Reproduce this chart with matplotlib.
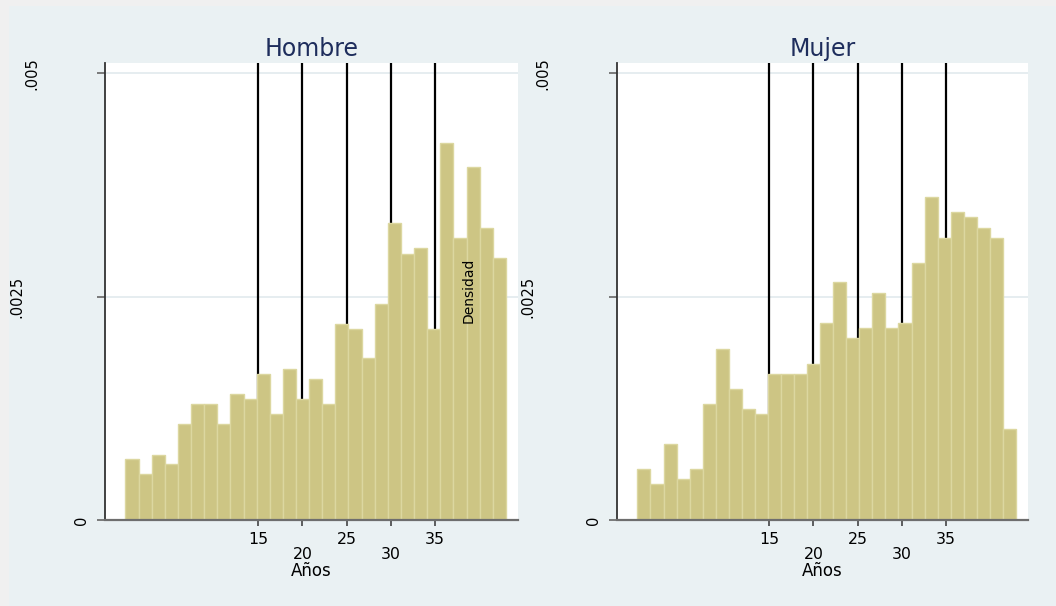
import numpy as np
import matplotlib
matplotlib.use('Agg')
import matplotlib.pyplot as plt
from matplotlib.patches import Rectangle

# histogram bins (29 bins between 0 and 43 years)
bin_inicio = 0.0
bin_fin = 43.0
n_bins = 29

hombre = [0.00068, 0.00052, 0.00073, 0.00063, 0.00107, 0.00130, 0.00130, 0.00107,
          0.00141, 0.00135, 0.00164, 0.00119, 0.00169, 0.00135, 0.00158, 0.00130,
          0.00220, 0.00214, 0.00181, 0.00242, 0.00333, 0.00298, 0.00304, 0.00214,
          0.00422, 0.00316, 0.00395, 0.00327, 0.00293]

mujer = [0.00057, 0.00040, 0.00085, 0.00046, 0.00057, 0.00130, 0.00192, 0.00147,
         0.00124, 0.00119, 0.00164, 0.00164, 0.00164, 0.00175, 0.00221, 0.00266,
         0.00204, 0.00215, 0.00254, 0.00215, 0.00221, 0.00288, 0.00362, 0.00316,
         0.00345, 0.00339, 0.00327, 0.00316, 0.00102]

cortes = [15, 20, 25, 30, 35]
yticks = [0, 0.0025, 0.005]
ylabels = ['0', '.0025', '.005']

BAR = '#cdc584'
BAR_EDGE = '#dcd7a0'
FONDO = '#eaf1f3'
TITULO = '#1e2d5c'


def draw_panel(ax, alturas, titulo, ylab_pos, densidad=False):
    edges = np.linspace(bin_inicio, bin_fin, n_bins + 1)
    ax.set_facecolor('white')
    ax.bar(edges[:-1], alturas, width=np.diff(edges), align='edge',
           color=BAR, edgecolor=BAR_EDGE, linewidth=1, zorder=3)
    for c in cortes:
        ax.axvline(c, color='black', lw=1.6, zorder=2)

    ax.set_xlim(-2.32, 44.37)
    ax.set_ylim(0, 0.005113)

    ax.set_yticks(yticks)
    ax.set_yticklabels([''] * len(yticks))
    ax.yaxis.grid(True, color='#e4ecef', lw=1.3)
    ax.set_axisbelow(True)
    ax.tick_params(axis='y', length=6, width=1.2, color='#666666')
    for val, lab, xp in zip(yticks, ylabels, ylab_pos):
        ax.text(xp, val, lab, transform=ax.get_yaxis_transform(), rotation=90,
                ha='center', va='center', fontsize=10.5, clip_on=False)

    ax.set_xticks([15, 25, 35])
    ax.set_xticklabels(['15', '25', '35'])
    ax.set_xticks([20, 30], minor=True)
    ax.set_xticklabels(['20', '30'], minor=True)
    ax.tick_params(axis='x', which='major', length=4.5, width=1.2,
                   color='#444444', pad=4, labelsize=11.3)
    ax.tick_params(axis='x', which='minor', length=4.5, width=1.2,
                   color='#444444', pad=15, labelsize=11.3)
    ax.set_xlabel('Años', fontsize=12, labelpad=0)

    for s in ['top', 'right']:
        ax.spines[s].set_visible(False)
    ax.spines['left'].set_color('#333333')
    ax.spines['left'].set_linewidth(1.3)
    ax.spines['bottom'].set_color('#6e6e6e')
    ax.spines['bottom'].set_linewidth(1.6)
    for s in ax.spines.values():
        s.set_zorder(4)

    ax.set_title(titulo, fontsize=17, color=TITULO, pad=5)

    if densidad:
        ax.text(0.88, 0.5025, 'Densidad', transform=ax.transAxes, rotation=90,
                ha='center', va='center', fontsize=10, zorder=5)


fig = plt.figure(figsize=(10.56, 6.06), dpi=100)
fig.patch.set_facecolor('#f0f0f0')
fig.patches.append(Rectangle((9 / 1056, 0), 1, 1 - 6 / 606, transform=fig.transFigure,
                             facecolor=FONDO, edgecolor='none', zorder=-10))

ax1 = fig.add_axes([0.0994, 0.1419, 0.3911, 0.7536])
ax2 = fig.add_axes([0.5843, 0.1419, 0.3892, 0.7536])

draw_panel(ax1, hombre, 'Hombre', [-0.0557, -0.2138, -0.1768], densidad=True)
draw_panel(ax2, mujer, 'Mujer', [-0.057, -0.2178, -0.18])

fig.savefig('out.png', dpi=100, facecolor=fig.get_facecolor())
